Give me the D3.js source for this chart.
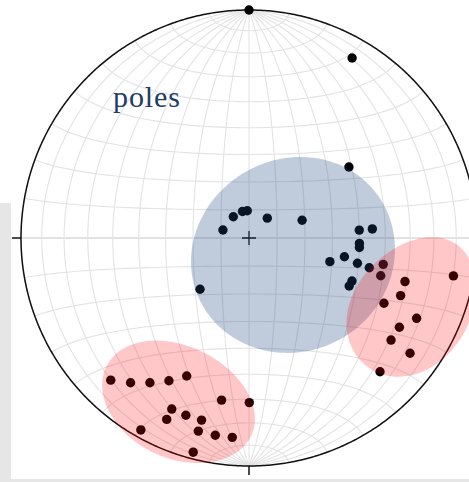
<!DOCTYPE html>
<html><head><meta charset="utf-8">
<script src="https://cdn.jsdelivr.net/npm/d3@7"></script>
<style>
  html, body { margin: 0; padding: 0; background: #fff; }
  svg { display: block; }
</style>
</head><body>
<script>
// Pole orientations (trend, plunge in degrees, lower hemisphere)
const poleTrends = [0.0, 29.8, 54.6, 287.1, 323.6, 346.2, 356.4, 42.7, 71.5, 223.7,
  85.9, 85.8, 92.8, 94.9, 106.3, 101.1, 103.1, 103.9, 101.1, 106.0,
  112.7, 115.6, 105.6, 100.5, 110.8, 115.8, 115.6, 120.7, 125.7, 125.6, 135.6,
  224.2, 219.3, 214.4, 209.3, 204.3, 189.6, 179.9, 204.3, 204.4, 199.6,
  194.6, 194.7, 189.7, 184.8, 209.4, 194.6];
const polePlunges = [0.0, 9.9, 45.3, 80.3, 80.6, 80.3, 80.3, 80.4, 70.0, 64.6,
  49.9, 44.9, 49.9, 49.8, 59.7, 54.9, 49.6, 44.8, 39.8, 39.7,
  49.5, 49.7, 29.7, 9.7, 29.6, 34.6, 19.6, 24.3, 24.3, 14.2, 19.0,
  14.1, 19.1, 24.1, 29.0, 34.0, 28.7, 28.6, 18.8, 13.7, 18.6,
  18.6, 13.5, 13.3, 13.3, 3.8, 3.3];

// Confidence ellipses around the cluster means (angles in degrees)
const coneNames = ["central", "south-west", "east"];
const coneTrends = [111.2, 203.4, 113.1];
const conePlunges = [72.2, 20.8, 21.6];
const coneSemiAxis1 = [34.7, 23.5, 26.1];
const coneSemiAxis2 = [37.5, 24.5, 21.4];
const coneAzimuths = [-20.6, 120.0, 77.8];

const titleText = "poles";
const gridStep = 10;

const width = 469, height = 482;
const netCenter = [249, 238], netRadius = 228;

const svg = d3.select("body").append("svg")
  .attr("width", width).attr("height", height);

// page panel behind the net
svg.append("rect").attr("x", 0).attr("y", 203).attr("width", width).attr("height", height - 203)
  .attr("fill", "#e6e6e6");
svg.append("rect").attr("x", 11).attr("y", 203).attr("width", width - 11).attr("height", 276)
  .attr("fill", "#ffffff");

// Schmidt (equal-area) net, equatorial aspect
const projection = d3.geoAzimuthalEqualArea()
  .scale(netRadius / Math.SQRT2)
  .translate(netCenter)
  .precision(0.1);
const path = d3.geoPath(projection);

const rad = Math.PI / 180;
// trend/plunge -> [lon, lat] on the net's sphere
function toLonLat(trend, plunge) {
  const t = trend * rad, p = plunge * rad;
  const lat = Math.asin(Math.cos(p) * Math.cos(t)) / rad;
  const lon = Math.atan2(Math.cos(p) * Math.sin(t), Math.sin(p)) / rad;
  return [lon, lat];
}

// spherical ellipse: semi-axes a, b (deg) about a centre, first axis at azimuth az
function sphericalEllipse(center, a, b, az, n = 180) {
  const rot = d3.geoRotation([-center[0], -center[1]]);
  const ring = [];
  for (let k = 0; k <= n; k++) {
    const th = 2 * Math.PI * k / n;
    const d = a * b / Math.sqrt((b * Math.cos(th)) ** 2 + (a * Math.sin(th)) ** 2) * rad;
    const be = th + az * rad;
    const lat = Math.asin(Math.sin(d) * Math.cos(be));
    const lon = Math.atan2(Math.sin(be) * Math.sin(d), Math.cos(d));
    ring.push(projection(rot.invert([lon / rad, lat / rad])));
  }
  return ring;
}

const graticule = d3.geoGraticule()
  .extent([[-90, -90], [90.001, 90.001]])
  .step([gridStep, gridStep]);

svg.append("g").selectAll("path")
  .data(graticule.lines())
  .join("path")
  .attr("d", path)
  .attr("fill", "none")
  .attr("stroke", "#e3e3e3")
  .attr("stroke-width", 1.1);

// equator (E-W line)
svg.append("path")
  .datum({type: "LineString", coordinates: [[-90, 0], [0, 0], [90, 0]]})
  .attr("d", path)
  .attr("fill", "none")
  .attr("stroke", "#e3e3e3")
  .attr("stroke-width", 2);

// primitive circle
svg.append("path")
  .datum(d3.geoCircle().center([0, 0]).radius(90).precision(0.5)())
  .attr("d", path)
  .attr("fill", "none")
  .attr("stroke", "#111")
  .attr("stroke-width", 1.5);

// cardinal ticks (E, S, W)
const tickLen = 9;
svg.append("g").selectAll("line")
  .data([90, 180, 270])
  .join("line")
  .each(function(tr) {
    const [x, y] = projection(toLonLat(tr, 0));
    const dx = x - netCenter[0], dy = y - netCenter[1];
    const L = Math.hypot(dx, dy);
    d3.select(this)
      .attr("x1", x).attr("y1", y)
      .attr("x2", x + dx / L * tickLen).attr("y2", y + dy / L * tickLen);
  })
  .attr("stroke", "#111")
  .attr("stroke-width", 1.5);

// centre cross
const c0 = projection([0, 0]);
svg.append("path")
  .attr("d", `M${c0[0] - 7},${c0[1]}H${c0[0] + 7}M${c0[0]},${c0[1] - 7}V${c0[1] + 7}`)
  .attr("stroke", "#111")
  .attr("stroke-width", 1.3)
  .attr("fill", "none");

// poles
const poles = poleTrends.map((t, i) => toLonLat(t, polePlunges[i]));
svg.append("g").selectAll("circle")
  .data(poles)
  .join("circle")
  .attr("cx", d => projection(d)[0])
  .attr("cy", d => projection(d)[1])
  .attr("r", 4.7)
  .attr("fill", "#000");

// confidence ellipses
const coneColor = d3.scaleOrdinal()
  .domain(coneNames)
  .range(["#1e497e", "#ff0000", "#ff0000"]);
const coneOpacity = d3.scaleOrdinal()
  .domain(coneNames)
  .range([0.28, 0.22, 0.22]);
const line = d3.line();

svg.append("g").selectAll("path")
  .data(coneNames)
  .join("path")
  .attr("d", (name, i) => line(sphericalEllipse(
      toLonLat(coneTrends[i], conePlunges[i]),
      coneSemiAxis1[i], coneSemiAxis2[i], coneAzimuths[i])) + "Z")
  .attr("fill", d => coneColor(d))
  .attr("fill-opacity", d => coneOpacity(d))
  .attr("stroke", "none");

// title
svg.append("text")
  .attr("x", 113)
  .attr("y", 107)
  .attr("font-family", "'Liberation Serif', serif")
  .attr("font-size", 30)
  .attr("textLength", 67)
  .attr("lengthAdjust", "spacing")
  .attr("fill", "#1d3d64")
  .text(titleText);
</script>
</body></html>
